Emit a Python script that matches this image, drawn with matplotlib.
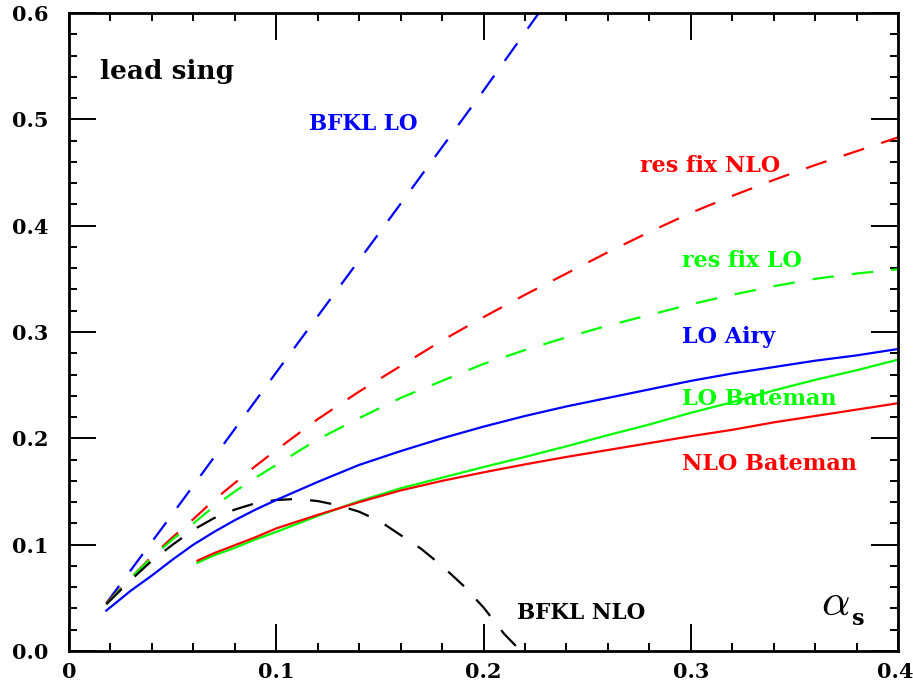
import numpy as np
import matplotlib
matplotlib.use("Agg")
import matplotlib.pyplot as plt
import matplotlib.transforms as mtransforms

plt.rcParams['font.family'] = ['DejaVu Serif']
plt.rcParams['mathtext.fontset'] = 'cm'
plt.rcParams['lines.scale_dashes'] = False

# curve data (alpha_s, exponent)
x_bfkl_lo = [0.018, 0.05, 0.1, 0.15, 0.2, 0.23]
y_bfkl_lo = [0.045, 0.129, 0.262, 0.394, 0.527, 0.609]

x_res = [0.018, 0.03, 0.04, 0.05, 0.06, 0.07, 0.08, 0.09, 0.1, 0.12, 0.14, 0.16,
         0.18, 0.2, 0.22, 0.24, 0.26, 0.28, 0.3, 0.32, 0.34, 0.36, 0.38, 0.4]
y_res_nlo = [0.045, 0.069, 0.089, 0.107, 0.124, 0.142, 0.158, 0.174, 0.189, 0.218, 0.244, 0.268,
             0.292, 0.314, 0.335, 0.355, 0.375, 0.394, 0.412, 0.428, 0.443, 0.457, 0.470, 0.483]
y_res_lo = [0.044, 0.069, 0.088, 0.105, 0.120, 0.136, 0.150, 0.163, 0.175, 0.199, 0.219, 0.238,
            0.254, 0.270, 0.283, 0.295, 0.306, 0.316, 0.326, 0.335, 0.343, 0.350, 0.355, 0.359]

x_airy = [0.018, 0.03, 0.04, 0.05, 0.06, 0.07, 0.08, 0.09, 0.1, 0.12, 0.14, 0.16,
          0.18, 0.2, 0.22, 0.24, 0.26, 0.28, 0.3, 0.32, 0.34, 0.36, 0.38, 0.4]
y_airy = [0.038, 0.057, 0.071, 0.086, 0.100, 0.112, 0.123, 0.133, 0.142, 0.159, 0.175, 0.188,
          0.200, 0.211, 0.221, 0.230, 0.238, 0.246, 0.254, 0.261, 0.267, 0.273, 0.278, 0.284]

x_bat = [0.062, 0.07, 0.08, 0.09, 0.1, 0.12, 0.14, 0.16, 0.18, 0.2, 0.22,
         0.24, 0.26, 0.28, 0.3, 0.32, 0.34, 0.36, 0.38, 0.4]
y_nlo_bat = [0.085, 0.092, 0.0995, 0.107, 0.1153, 0.128, 0.140, 0.151, 0.160, 0.168, 0.1755,
             0.1825, 0.189, 0.1955, 0.202, 0.208, 0.215, 0.221, 0.227, 0.233]
y_lo_bat = [0.083, 0.090, 0.097, 0.105, 0.112, 0.127, 0.141, 0.153, 0.163, 0.173, 0.1825,
            0.1925, 0.203, 0.213, 0.224, 0.234, 0.245, 0.255, 0.264, 0.274]

x_bfkl_nlo = [0.018, 0.03, 0.04, 0.05, 0.06, 0.07, 0.08, 0.09, 0.1, 0.11, 0.12, 0.13,
              0.14, 0.15, 0.16, 0.17, 0.18, 0.19, 0.2, 0.21, 0.218]
y_bfkl_nlo = [0.044, 0.067, 0.085, 0.100, 0.114, 0.125, 0.133, 0.139, 0.142, 0.143, 0.141, 0.137,
              0.131, 0.122, 0.109, 0.096, 0.080, 0.062, 0.041, 0.016, 0.0]

xticks = [0, 0.1, 0.2, 0.3, 0.4]
xticklabels = ['0', '0.1', '0.2', '0.3', '0.4']
yticks = [0, 0.1, 0.2, 0.3, 0.4, 0.5, 0.6]
yticklabels = ['0.0', '0.1', '0.2', '0.3', '0.4', '0.5', '0.6']

fig = plt.figure(figsize=(9.13, 6.84), dpi=100)
ax = fig.add_axes([69/913, 1-651/684, (898-69)/913, (651-13)/684])

dash = (0, (15.5, 13))
lw = 1.6
ax.plot(x_bfkl_lo, y_bfkl_lo, color='#0000ff', lw=lw, ls=dash)
ax.plot(x_res, y_res_nlo, color='#ff0000', lw=lw, ls=dash)
ax.plot(x_res, y_res_lo, color='#00ff00', lw=lw, ls=dash)
ax.plot(x_bfkl_nlo, y_bfkl_nlo, color='black', lw=lw, ls=dash)
ax.plot(x_airy, y_airy, color='#0000ff', lw=lw)
ax.plot(x_bat, y_lo_bat, color='#00ff00', lw=lw)
ax.plot(x_bat, y_nlo_bat, color='#ff0000', lw=lw)

ax.set_xlim(0, 0.4)
ax.set_ylim(0, 0.6)
ax.set_xticks(xticks)
ax.set_xticklabels(xticklabels)
ax.set_yticks(yticks)
ax.set_yticklabels(yticklabels)
ax.set_xticks(np.arange(0, 0.401, 0.02), minor=True)
ax.set_yticks(np.arange(0, 0.601, 0.02), minor=True)
ax.tick_params(which='both', direction='in', top=True, right=True, width=1.4)
ax.tick_params(which='major', length=19.5, labelsize=15)
ax.tick_params(which='minor', length=6)
ax.tick_params(axis='x', which='major', pad=8)
ax.tick_params(axis='y', which='major', pad=15)
for lab in ax.get_xticklabels() + ax.get_yticklabels():
    lab.set_fontweight('bold')
# nudge the last x label so it stays inside the image
last = ax.get_xticklabels()[-1]
last.set_transform(last.get_transform() + mtransforms.ScaledTranslation(-3/100, 0, fig.dpi_scale_trans))
for sp in ax.spines.values():
    sp.set_linewidth(2)

# curve labels
fs = 16
ax.text(0.015, 0.538, 'lead sing', fontsize=19, fontweight='bold', va='baseline')
ax.text(0.1156, 0.4904, 'BFKL LO', color='#0000ff', fontsize=15.5, fontweight='bold', va='baseline')
ax.text(0.2757, 0.450, 'res fix NLO', color='#ff0000', fontsize=fs, fontweight='bold', va='baseline')
ax.text(0.2958, 0.361, 'res fix LO', color='#00ff00', fontsize=fs, fontweight='bold', va='baseline')
ax.text(0.2958, 0.290, 'LO Airy', color='#0000ff', fontsize=fs, fontweight='bold', va='baseline')
ax.text(0.2958, 0.231, 'LO Bateman', color='#00ff00', fontsize=fs, fontweight='bold', va='baseline')
ax.text(0.2958, 0.170, 'NLO Bateman', color='#ff0000', fontsize=fs, fontweight='bold', va='baseline')
ax.text(0.2163, 0.030, 'BFKL NLO', color='black', fontsize=15.5, fontweight='bold', va='baseline')
ax.text(0.363, 0.034, r'$\alpha$', fontsize=32, va='baseline')
ax.text(0.378, 0.024, 's', fontsize=16, fontweight='bold', va='baseline')

fig.savefig('out.png', dpi=100)
